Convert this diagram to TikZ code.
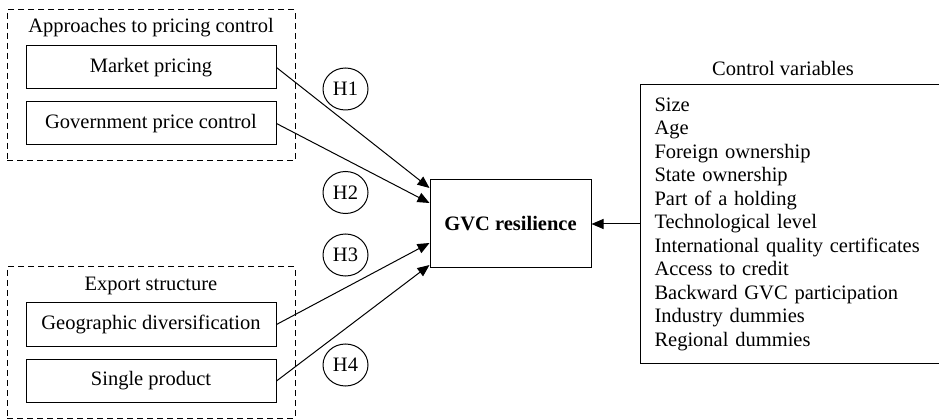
\documentclass[tikz,border=0pt]{standalone}
\usepackage{fontspec}
\setmainfont{Liberation Serif}
\usetikzlibrary{arrows.meta, shapes.geometric}

\tikzset{
    varbox/.style={draw, minimum width=250pt, minimum height=43pt, inner sep=0pt},
    groupbox/.style={draw, dash pattern=on 6pt off 4pt, minimum width=288pt, minimum height=151pt},
    hyp/.style={draw, ellipse, minimum width=45pt, minimum height=42pt, inner sep=0pt},
    effect/.style={-{Triangle[length=12pt,width=10pt]}},
}

\begin{document}
\begin{tikzpicture}[x=1pt, y=-1pt, line width=1pt, font=\fontsize{20.5}{23.5}\selectfont]
            \useasboundingbox (0, 0) rectangle (939, 419);
            % pricing control group
            \node[groupbox] (pricing) at (151, 85.5) {};
            \node (pricingtitle) at (151, 28) {Approaches to pricing control};
            \node[varbox] (market) at (151, 67.5) {Market pricing};
            \node[varbox] (govt) at (151, 123.5) {Government price control};
            % export structure group
            \node[groupbox] (export) at (151, 342.5) {};
            \node (exporttitle) at (151, 286) {Export structure};
            \node[varbox] (geo) at (151, 324.5) {Geographic diversification};
            \node[varbox] (single) at (151, 381) {Single product};
            % outcome
            \node[draw, minimum width=161pt, minimum height=88pt, font=\fontsize{20.5}{23.5}\selectfont\bfseries] (gvc) at (510.5, 224) {GVC resilience};
            % controls
            \node (cvtitle) at (783, 68) {Control variables};
            \node[draw, anchor=west, text width=290pt, inner xsep=14pt, minimum height=278pt, align=left] (controls) at (640, 224) {Size\\Age\\Foreign ownership\\State ownership\\Part of a holding\\Technological level\\International quality certificates\\Access to credit\\Backward GVC participation\\Industry dummies\\Regional dummies};
            % hypotheses
            \node[hyp] (h1) at (345.5, 89) {H1};
            \node[hyp] (h2) at (345.5, 192.5) {H2};
            \node[hyp] (h3) at (345.5, 255) {H3};
            \node[hyp] (h4) at (345.5, 365) {H4};
            \draw[effect] (market.east) -- ([yshift=36pt]gvc.west);
            \draw[effect] (govt.east) -- ([yshift=21pt]gvc.west);
            \draw[effect] (geo.east) -- ([yshift=-19pt]gvc.west);
            \draw[effect] (single.east) -- ([yshift=-41pt]gvc.west);
            \draw[effect] (controls.west) -- (gvc.east);
        \end{tikzpicture}
\end{document}
